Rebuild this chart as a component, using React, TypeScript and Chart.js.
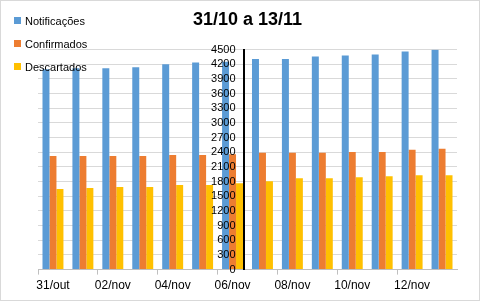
import React, { useEffect, useRef } from "react";
import { Chart, registerables } from "chart.js";

Chart.register(...registerables);

const categories = [
  "31/out", "01/nov", "02/nov", "03/nov", "04/nov", "05/nov", "06/nov",
  "07/nov", "08/nov", "09/nov", "10/nov", "11/nov", "12/nov", "13/nov",
];
const notificacoes = [4100, 4120, 4120, 4140, 4200, 4235, 4250, 4310, 4310, 4358, 4378, 4398, 4459, 4495];
const confirmados = [2325, 2325, 2325, 2325, 2345, 2345, 2360, 2390, 2390, 2390, 2405, 2405, 2450, 2470];
const descartados = [1647, 1667, 1688, 1688, 1730, 1730, 1766, 1807, 1868, 1868, 1889, 1909, 1930, 1930];
const seriesNames = ["Notificações", "Confirmados", "Descartados"];
const seriesColors = ["#5B9BD5", "#ED7D31", "#FFC000"];
const titleText = "31/10 a 13/11";
const yMin = 0;
const yMax = 4500;
const yStep = 300;
const yCrossAt = 6.38;
const yLabelsAt = 6.1;

const FONT = "'Liberation Sans', Arial, sans-serif";

export default function App() {
  const ref = useRef<HTMLCanvasElement | null>(null);

  useEffect(() => {
    if (!ref.current) return;
    const chart = new Chart(ref.current, {
      type: "bar",
      data: {
        labels: categories,
        datasets: [notificacoes, confirmados, descartados].map((d, i) => ({
          label: seriesNames[i],
          data: d,
          backgroundColor: seriesColors[i],
          borderWidth: 0,
          categoryPercentage: 0.7,
          barPercentage: 1.0,
          yAxisID: "y",
        })),
      },
      options: {
        responsive: false,
        animation: false,
        layout: { padding: { left: 38, right: 23, top: 0, bottom: 6 } },
        plugins: {
          legend: { display: false },
          tooltip: { enabled: false },
          title: {
            display: true,
            text: titleText,
            color: "#000",
            font: { family: FONT, size: 18, weight: "bold" },
            padding: { top: 9, bottom: 19 },
          },
        },
        scales: {
          x: {
            type: "category",
            offset: true,
            grid: {
              offset: true,
              drawOnChartArea: false,
              tickLength: 5,
              color: (ctx: any) => (ctx.index % 2 === 0 ? "#BFBFBF" : "rgba(0,0,0,0)"),
            },
            border: { color: "#BFBFBF", width: 1 },
            ticks: {
              autoSkip: false,
              maxRotation: 0,
              minRotation: 0,
              padding: 4,
              color: "#000",
              font: { family: FONT, size: 12 },
              callback: (_v: any, i: number) => (i % 2 === 0 ? categories[i] : ""),
            },
          },
          y: {
            type: "linear",
            position: { x: yCrossAt } as any,
            min: yMin,
            max: yMax,
            grid: { color: "#D9D9D9", drawTicks: false, z: -1 },
            border: { color: "#000", width: 2, z: 1 },
            ticks: { stepSize: yStep, display: false, autoSkip: false },
          },
          yLabels: {
            type: "linear",
            position: { x: yLabelsAt } as any,
            min: yMin,
            max: yMax,
            grid: { display: false, drawTicks: false },
            border: { display: false },
            ticks: {
              stepSize: yStep,
              autoSkip: false,
              color: "#000",
              z: 1,
              font: { family: FONT, size: 11 },
              callback: (v: any) => String(v),
            },
          },
        },
      },
    });
    return () => chart.destroy();
  }, []);

  return (
    <div style={{ position: "absolute", left: 0, top: 0, width: 480, height: 303, background: "#fff" }}>
      <canvas ref={ref} width={480} height={303} style={{ display: "block" }} />
      <div
        style={{
          position: "absolute",
          left: 0,
          top: 0,
          width: 480,
          height: 301,
          boxSizing: "border-box",
          border: "1px solid #D9D9D9",
          pointerEvents: "none",
        }}
      />
      <div style={{ position: "absolute", left: 14, top: 9, fontFamily: FONT, fontSize: 11, color: "#000" }}>
        {seriesNames.map((n, i) => (
          <div key={n} style={{ display: "flex", alignItems: "center", height: 23 }}>
            <span style={{ display: "inline-block", width: 7, height: 7, background: seriesColors[i], marginRight: 4 }} />
            <span>{n}</span>
          </div>
        ))}
      </div>
    </div>
  );
}
